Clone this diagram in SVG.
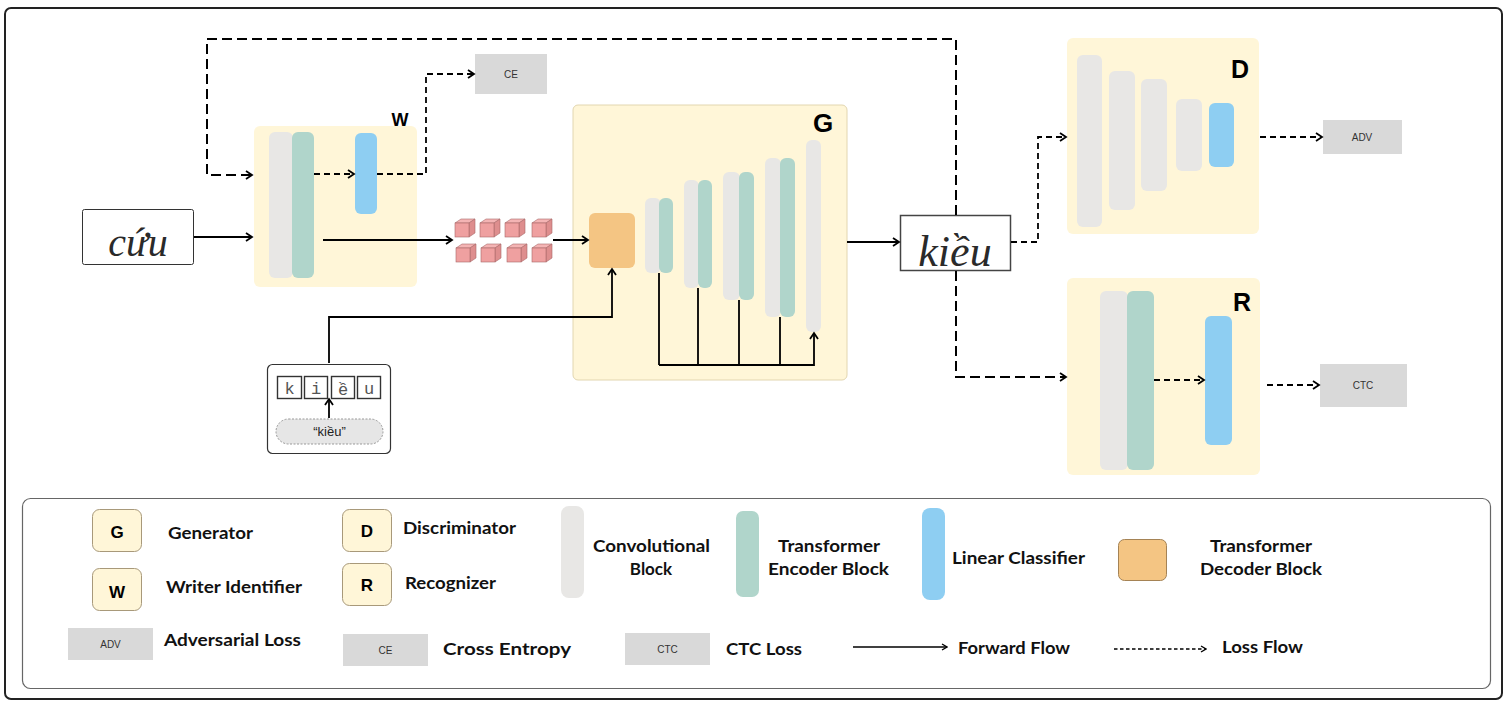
<svg xmlns="http://www.w3.org/2000/svg" width="1511" height="705" viewBox="0 0 1511 705">
<defs>
<marker id="ah" markerUnits="userSpaceOnUse" markerWidth="10" markerHeight="10" refX="8" refY="5" orient="auto">
<path d="M2,1 L8,5 L2,9" fill="none" stroke="#000" stroke-width="1.8"/>
</marker>
<marker id="ahs" markerUnits="userSpaceOnUse" markerWidth="8" markerHeight="8" refX="7" refY="4" orient="auto">
<path d="M2,1 L7,4 L2,7" fill="none" stroke="#000" stroke-width="1.3"/>
</marker>
<g id="cube">
<path d="M0,4 L6,0 L20,0 L14,4 Z" fill="#F4B4B4" stroke="#A86868" stroke-width="0.6"/>
<path d="M14,4 L20,0 L20,14 L14,18 Z" fill="#DE8E8E" stroke="#A86868" stroke-width="0.6"/>
<rect x="0" y="4" width="14" height="14" fill="#EFA0A0" stroke="#A86868" stroke-width="0.6"/>
</g>
</defs>
<style>
.blk{fill:#FFF6D8}
.conv{fill:#E8E7E5}
.enc{fill:#B0D5CB}
.lin{fill:#8ECEF2}
.dec{fill:#F4C583}
.loss{fill:#D9D9D9}
.lt{font-family:"Liberation Sans",Arial,sans-serif;font-size:10px;fill:#333;text-anchor:middle}
.lbl{font-family:"Liberation Sans",Arial,sans-serif;font-weight:700;fill:#000;text-anchor:middle}
.leg{font-family:Lato,"Liberation Sans",sans-serif;font-weight:700;font-size:17px;fill:#111}
.key{fill:#FFF6D8;stroke:#A8997A;stroke-width:1}
.sol{fill:none;stroke:#000;stroke-width:1.8}
.dsh{fill:none;stroke:#000;stroke-width:1.8;stroke-dasharray:6 4}
.dshl{fill:none;stroke:#000;stroke-width:2;stroke-dasharray:10 5}
.hw{font-family:"Liberation Serif",serif;font-style:italic;fill:#2a2a2a}
.mono{font-family:"Liberation Mono","DejaVu Sans Mono",monospace;font-size:17px;fill:#555;text-anchor:middle}
</style>

<rect x="5" y="8" width="1497" height="691" rx="6" fill="#fff" stroke="#222" stroke-width="2"/>

<g id="input-image">
<rect x="82.5" y="209.5" width="111" height="55" rx="2" fill="#fff" stroke="#333" stroke-width="1"/>
<text class="hw" x="138" y="256" font-size="40" text-anchor="middle">cứu</text>
</g>

<g id="W">
<rect class="blk" x="254" y="126" width="163" height="161" rx="6"/>
<rect class="conv" x="269" y="132" width="24" height="146" rx="6"/>
<rect class="enc" x="292" y="132" width="22" height="146" rx="6"/>
<rect class="lin" x="355" y="133" width="22" height="81" rx="6"/>
<text class="lbl" x="400" y="126" font-size="18">W</text>
</g>

<g id="CE">
<rect class="loss" x="475" y="54" width="72" height="40"/>
<text class="lt" x="511" y="78">CE</text>
</g>

<g id="features">
<use href="#cube" x="455" y="219"/>
<use href="#cube" x="480" y="219"/>
<use href="#cube" x="505" y="219"/>
<use href="#cube" x="532" y="219"/>
<use href="#cube" x="456" y="244"/>
<use href="#cube" x="481" y="244"/>
<use href="#cube" x="507" y="244"/>
<use href="#cube" x="532" y="244"/>
</g>

<g id="G">
<rect class="blk" x="573" y="105" width="274" height="275" rx="5" stroke="#E2D6B0" stroke-width="1"/>
<rect class="dec" x="589" y="213" width="46" height="55" rx="6"/>
<rect class="conv" x="645" y="198" width="16" height="75" rx="6"/>
<rect class="enc" x="659" y="198" width="14" height="75" rx="6"/>
<rect class="conv" x="684" y="180" width="15" height="108" rx="6"/>
<rect class="enc" x="698" y="180" width="14" height="108" rx="6"/>
<rect class="conv" x="723" y="172" width="17" height="128" rx="6"/>
<rect class="enc" x="739" y="172" width="15" height="128" rx="6"/>
<rect class="conv" x="765" y="158" width="16" height="159" rx="6"/>
<rect class="enc" x="780" y="158" width="15" height="159" rx="6"/>
<rect class="conv" x="806" y="140" width="15" height="192" rx="6"/>
<text class="lbl" x="823" y="132" font-size="26">G</text>
</g>

<g id="text-input">
<rect x="267.5" y="364.5" width="123" height="89" rx="5" fill="#fff" stroke="#333" stroke-width="1.2"/>
<rect x="277.5" y="376.5" width="24" height="22" fill="#fff" stroke="#333" stroke-width="1.4"/>
<rect x="304.5" y="376.5" width="23" height="22" fill="#fff" stroke="#333" stroke-width="1.4"/>
<rect x="331.5" y="376.5" width="23" height="22" fill="#fff" stroke="#333" stroke-width="1.4"/>
<rect x="357.5" y="376.5" width="23" height="22" fill="#fff" stroke="#333" stroke-width="1.4"/>
<text class="mono" x="289.5" y="394">k</text>
<text class="mono" x="316" y="394">i</text>
<text class="mono" x="343" y="395" font-size="16">ề</text>
<text class="mono" x="369" y="394">u</text>
<rect x="276" y="419" width="107" height="25" rx="12.5" fill="#E6E6E6" stroke="#999" stroke-width="1" stroke-dasharray="2 1.5"/>
<text x="329.5" y="436" font-family="Liberation Sans,Arial,sans-serif" font-size="13" fill="#222" text-anchor="middle">“kiều”</text>
</g>

<g id="output-image">
<rect x="900.5" y="215.5" width="110" height="55" fill="#fff" stroke="#444" stroke-width="1.5"/>
<text class="hw" x="955" y="266" font-size="44" text-anchor="middle">kiều</text>
</g>

<g id="D">
<rect class="blk" x="1067" y="38" width="192" height="196" rx="6"/>
<rect class="conv" x="1077" y="55" width="25" height="172" rx="6"/>
<rect class="conv" x="1109" y="71" width="26" height="139" rx="6"/>
<rect class="conv" x="1141" y="79" width="26" height="112" rx="6"/>
<rect class="conv" x="1176" y="99" width="26" height="72" rx="6"/>
<rect class="lin" x="1209" y="103" width="25" height="64" rx="6"/>
<text class="lbl" x="1240" y="78" font-size="25">D</text>
</g>

<g id="ADV">
<rect class="loss" x="1323" y="120" width="79" height="34"/>
<text class="lt" x="1362" y="141">ADV</text>
</g>

<g id="R">
<rect class="blk" x="1067" y="278" width="193" height="197" rx="6"/>
<rect class="conv" x="1100" y="291" width="28" height="179" rx="6"/>
<rect class="enc" x="1127" y="291" width="27" height="179" rx="6"/>
<rect class="lin" x="1205" y="316" width="27" height="129" rx="6"/>
<text class="lbl" x="1242" y="311" font-size="25">R</text>
</g>

<g id="CTC">
<rect class="loss" x="1320" y="364" width="87" height="43"/>
<text class="lt" x="1363" y="389">CTC</text>
</g>

<g id="connectors">
<path class="sol" d="M194,237 H252" marker-end="url(#ah)"/>
<path class="sol" d="M323,240 H452" marker-end="url(#ah)"/>
<path class="sol" d="M553,240 H588" marker-end="url(#ah)"/>
<path class="sol" d="M329,363 V317 H612 V269" marker-end="url(#ah)"/>
<path class="sol" d="M329,418 V399" marker-end="url(#ah)"/>
<path class="sol" d="M659,273 V365 M698,288 V365 M739,300 V365 M780,317 V365"/>
<path class="sol" d="M659,365 H814 V333" stroke-width="2.2" marker-end="url(#ah)"/>
<path class="sol" d="M847,242 H899" marker-end="url(#ah)"/>
<path class="dshl" d="M956,215 V39 H207 V175 H252" marker-end="url(#ah)"/>
<path class="dsh" d="M314,174 H354" marker-end="url(#ah)"/>
<path class="dsh" d="M377,174 H426 V74 H474" marker-end="url(#ah)"/>
<path class="dsh" d="M1011,242 H1038 V137 H1066" marker-end="url(#ah)"/>
<path class="dsh" d="M1260,137 H1322" marker-end="url(#ah)"/>
<path class="dshl" d="M956,271 V377 H1066" marker-end="url(#ah)"/>
<path class="dsh" d="M1154,380 H1204" marker-end="url(#ah)"/>
<path class="dsh" d="M1267,385 H1319" stroke-width="2.6" marker-end="url(#ah)"/>
</g>

<g id="legend">
<rect x="22.5" y="498.5" width="1468" height="190" rx="8" fill="none" stroke="#666" stroke-width="1.2"/>
<rect class="key" x="92.5" y="509.5" width="49" height="42" rx="7"/>
<text class="lbl" x="117" y="538" font-size="17">G</text>
<rect class="key" x="92.5" y="568.5" width="49" height="42" rx="7"/>
<text class="lbl" x="117" y="598" font-size="17">W</text>
<text class="leg" x="168" y="539" textLength="85" lengthAdjust="spacingAndGlyphs">Generator</text>
<text class="leg" x="166" y="593" textLength="136" lengthAdjust="spacingAndGlyphs">Writer Identifier</text>
<rect class="key" x="342.5" y="509.5" width="49" height="42" rx="7"/>
<text class="lbl" x="367" y="537" font-size="17">D</text>
<rect class="key" x="342.5" y="563.5" width="49" height="42" rx="7"/>
<text class="lbl" x="367" y="591" font-size="17">R</text>
<text class="leg" x="403" y="534" textLength="113" lengthAdjust="spacingAndGlyphs">Discriminator</text>
<text class="leg" x="405" y="589" textLength="91" lengthAdjust="spacingAndGlyphs">Recognizer</text>
<rect class="conv" x="561" y="506" width="23" height="92" rx="8"/>
<text class="leg" x="593" y="552" textLength="117" lengthAdjust="spacingAndGlyphs">Convolutional</text>
<text class="leg" x="651" y="575" text-anchor="middle">Block</text>
<rect class="enc" x="736" y="511" width="23" height="86" rx="7"/>
<text class="leg" x="778" y="552" textLength="102" lengthAdjust="spacingAndGlyphs">Transformer</text>
<text class="leg" x="768" y="575" textLength="121" lengthAdjust="spacingAndGlyphs">Encoder Block</text>
<rect class="lin" x="922" y="508" width="23" height="92" rx="8"/>
<text class="leg" x="952" y="564" textLength="133" lengthAdjust="spacingAndGlyphs">Linear Classifier</text>
<rect x="1118.5" y="539.5" width="48" height="41" rx="6" fill="#F4C583" stroke="#A58355" stroke-width="1"/>
<text class="leg" x="1210" y="552" textLength="102" lengthAdjust="spacingAndGlyphs">Transformer</text>
<text class="leg" x="1200" y="575" textLength="122" lengthAdjust="spacingAndGlyphs">Decoder Block</text>
<rect class="loss" x="68" y="628" width="85" height="32"/>
<text class="lt" x="110.5" y="648" font-size="9.5">ADV</text>
<text class="leg" x="164" y="646" textLength="137" lengthAdjust="spacingAndGlyphs">Adversarial Loss</text>
<rect class="loss" x="343" y="634" width="85" height="32"/>
<text class="lt" x="385.5" y="654" font-size="9.5">CE</text>
<text class="leg" x="443" y="655" textLength="128" lengthAdjust="spacingAndGlyphs">Cross Entropy</text>
<rect class="loss" x="625" y="633" width="85" height="32"/>
<text class="lt" x="667.5" y="653" font-size="9.5">CTC</text>
<text class="leg" x="726" y="655" textLength="76" lengthAdjust="spacingAndGlyphs">CTC Loss</text>
<path d="M853,647 H947" fill="none" stroke="#000" stroke-width="1.5" marker-end="url(#ahs)"/>
<text class="leg" x="958" y="654" textLength="112" lengthAdjust="spacingAndGlyphs">Forward Flow</text>
<path d="M1114,649 H1206" fill="none" stroke="#000" stroke-width="1.3" stroke-dasharray="3.5 2.5" marker-end="url(#ahs)"/>
<text class="leg" x="1222" y="653" textLength="81" lengthAdjust="spacingAndGlyphs">Loss Flow</text>
</g>
</svg>
